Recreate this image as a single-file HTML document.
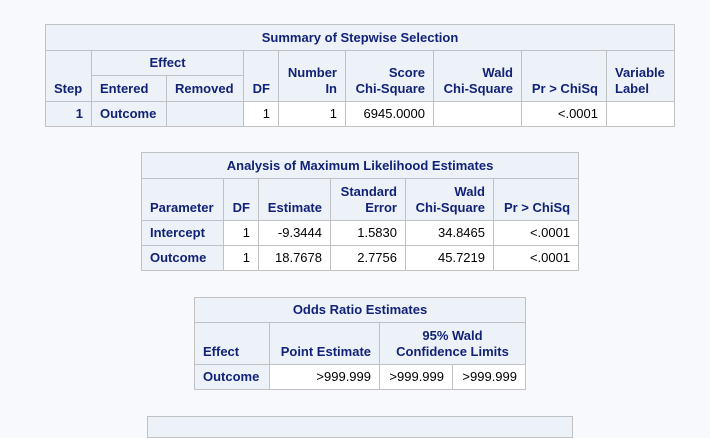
<!DOCTYPE html>
<html><head><meta charset="utf-8"><style>
body{margin:0;width:710px;height:422px;background:#f8f9fc;position:relative;overflow:hidden;font-family:"Liberation Sans",Arial,sans-serif;font-size:13px;}
table{position:absolute;border-collapse:collapse;table-layout:fixed;}
td,th{border:1px solid #c1c1c1;padding:0 8px;box-sizing:border-box;line-height:16px;}
th{background:#edf2f9;color:#112277;font-weight:bold;}
th.t{text-align:center;}
th.h{text-align:right;vertical-align:bottom;padding-bottom:4px;}
th.hl{text-align:left;vertical-align:bottom;padding-bottom:4px;}
th.rh{text-align:left;}
td{background:#fff;color:#000;text-align:right;}
</style></head><body>
<table style="left:45px;top:24px;width:629px">
<colgroup><col style="width:46px"><col style="width:75px"><col style="width:77px"><col style="width:35px"><col style="width:67px"><col style="width:88px"><col style="width:88px"><col style="width:85px"><col style="width:68px"></colgroup>
<tr style="height:26px"><th class="t" colspan="9">Summary of Stepwise Selection</th></tr>
<tr style="height:25px"><th class="hl" rowspan="2">Step</th><th class="t" colspan="2">Effect</th><th class="h" rowspan="2">DF</th><th class="h" rowspan="2">Number<br>In</th><th class="h" rowspan="2">Score<br>Chi-Square</th><th class="h" rowspan="2">Wald<br>Chi-Square</th><th class="h" rowspan="2">Pr &gt; ChiSq</th><th class="hl" rowspan="2">Variable<br>Label</th></tr>
<tr style="height:26px"><th class="hl">Entered</th><th class="hl">Removed</th></tr>
<tr style="height:25px"><th style="text-align:right">1</th><th class="rh">Outcome</th><th></th><td>1</td><td>1</td><td>6945.0000</td><td></td><td>&lt;.0001</td><td></td></tr>
</table>
<table style="left:141px;top:152px;width:437px">
<colgroup><col style="width:82px"><col style="width:35px"><col style="width:72px"><col style="width:75px"><col style="width:88px"><col style="width:85px"></colgroup>
<tr style="height:26px"><th class="t" colspan="6">Analysis of Maximum Likelihood Estimates</th></tr>
<tr style="height:42px"><th class="hl">Parameter</th><th class="h">DF</th><th class="h">Estimate</th><th class="h">Standard<br>Error</th><th class="h">Wald<br>Chi-Square</th><th class="h">Pr &gt; ChiSq</th></tr>
<tr style="height:25px"><th class="rh">Intercept</th><td>1</td><td>-9.3444</td><td>1.5830</td><td>34.8465</td><td>&lt;.0001</td></tr>
<tr style="height:25px"><th class="rh">Outcome</th><td>1</td><td>18.7678</td><td>2.7756</td><td>45.7219</td><td>&lt;.0001</td></tr>
</table>
<table style="left:194px;top:297px;width:331px">
<colgroup><col style="width:75px"><col style="width:110px"><col style="width:73px"><col style="width:73px"></colgroup>
<tr style="height:25px"><th class="t" colspan="4">Odds Ratio Estimates</th></tr>
<tr style="height:42px"><th class="hl">Effect</th><th class="h">Point Estimate</th><th class="t" colspan="2" style="vertical-align:bottom;padding-bottom:4px">95% Wald<br>Confidence Limits</th></tr>
<tr style="height:25px"><th class="rh">Outcome</th><td>&gt;999.999</td><td>&gt;999.999</td><td>&gt;999.999</td></tr>
</table>
<div style="position:absolute;left:147px;top:416px;width:424px;height:20px;background:#edf2f9;border:1px solid #c1c1c1"></div>
</body></html>
